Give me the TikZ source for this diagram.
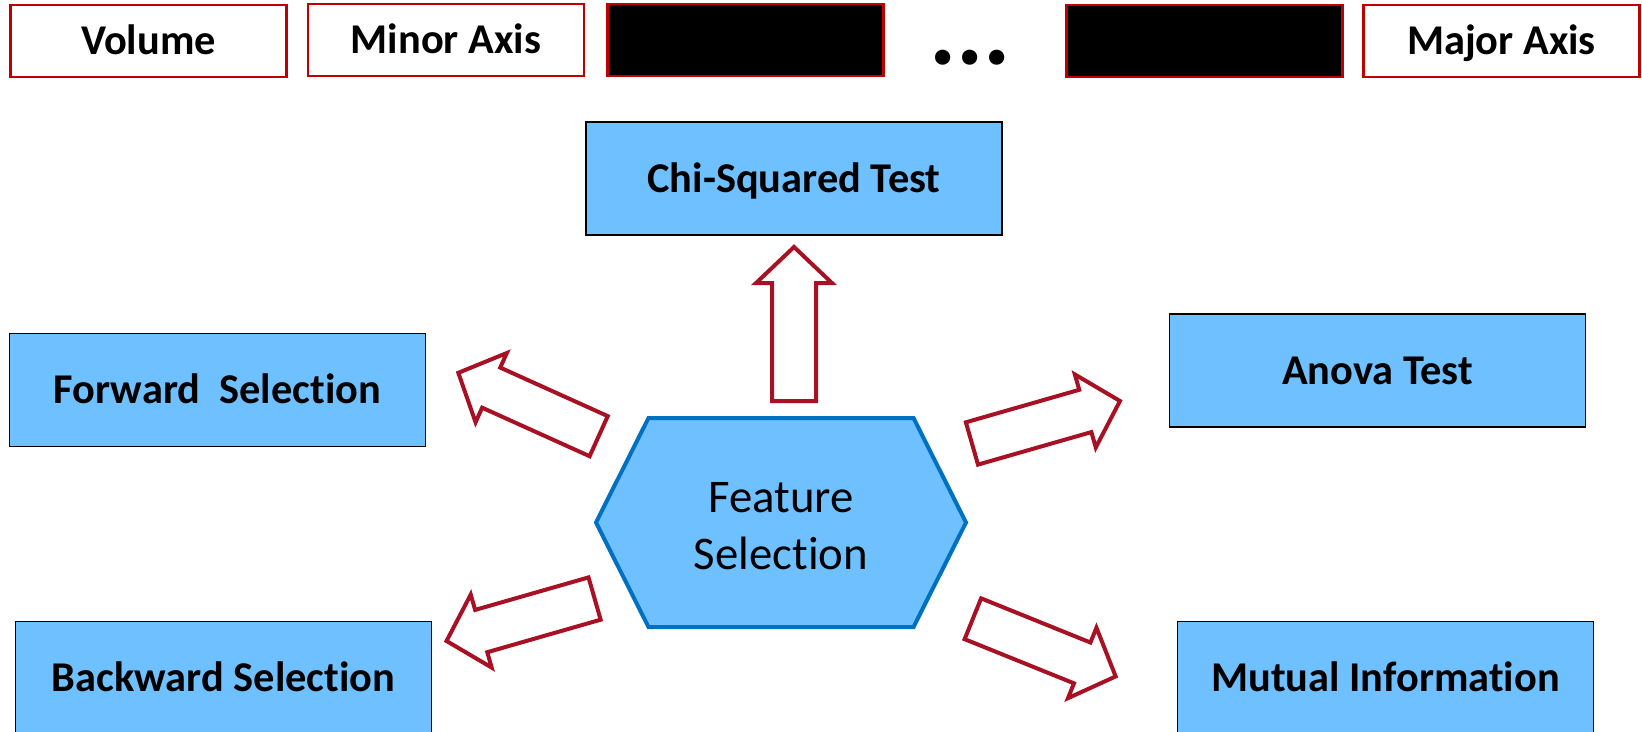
\documentclass[tikz,border=0pt]{standalone}
\usepackage{fontspec}
\setmainfont[Ligatures=NoCommon]{Carlito}
\usepackage{tikz}
\usetikzlibrary{shapes.arrows}
\definecolor{boxblue}{RGB}{111,192,255}
\definecolor{hexblue}{RGB}{0,112,192}
\definecolor{topred}{RGB}{192,0,0}
\definecolor{arrowred}{RGB}{168,16,36}

\begin{document}
\begin{tikzpicture}[x=0.5pt,y=-0.5pt,
  featbox/.style={draw=topred,line width=1.2pt,minimum width=138pt,minimum height=36pt,inner sep=0pt,font=\fontsize{21.2}{25}\selectfont\bfseries,text height=16pt,text depth=2.4pt},
  hiddenbox/.style={featbox,fill=black},
  methodbox/.style={draw=black,line width=0.8pt,fill=boxblue,minimum width=208pt,minimum height=56.5pt,inner sep=0pt,font=\fontsize{21.2}{25}\selectfont\bfseries,text height=16pt,text depth=2.4pt},
  blockarrow/.style={single arrow,draw=arrowred,fill=white,line width=2pt,minimum height=77pt,inner xsep=0pt,inner ysep=10pt,single arrow head extend=8pt,single arrow tip angle=93,anchor=tail}]
\useasboundingbox (0,0) rectangle (1642,732);
\clip (0,0) rectangle (1642,732);

\node[featbox] (volume) at (148.5,41) {Volume};
\node[featbox] (minor) at (446,40) {Minor Axis};
\node[hiddenbox] (hidA) at (745.5,40) {};
\node[font=\fontsize{51}{51}\selectfont\bfseries,anchor=base,inner sep=0pt] (dots) at (970,64.5) {...};
\node[hiddenbox] (hidB) at (1204.5,41) {};
\node[featbox] (major) at (1501.5,41) {Major Axis};

\node[methodbox] (chi) at (794,178.5) {Chi-Squared Test};
\node[methodbox] (fwd) at (217.5,390) {Forward~~Selection};
\node[methodbox] (anova) at (1377.5,370.5) {Anova Test};
\node[methodbox] (bwd) at (223.5,678) {Backward Selection};
\node[methodbox] (mutual) at (1385.5,678) {Mutual Information};

\draw[hexblue,line width=2pt,fill=boxblue] (596,522.5) -- (648.5,418) -- (913.5,418) -- (966,522.5) -- (913.5,627) -- (648.5,627) -- cycle;
\node[align=center,font=\fontsize{23.4}{28.5}\selectfont,inner sep=0pt] (fs) at (781,526.5) {Feature\\Selection};

\node[blockarrow,rotate=90] (toChi) at (794,403) {};
\node[blockarrow,rotate=155.7] (toFwd) at (600.5,437) {};
\node[blockarrow,rotate=16] (toAnova) at (970,444) {};
\node[blockarrow,rotate=-22] (toMutual) at (971,618) {};
\node[blockarrow,rotate=196] (toBwd) at (596.5,598) {};
\end{tikzpicture}
\end{document}
